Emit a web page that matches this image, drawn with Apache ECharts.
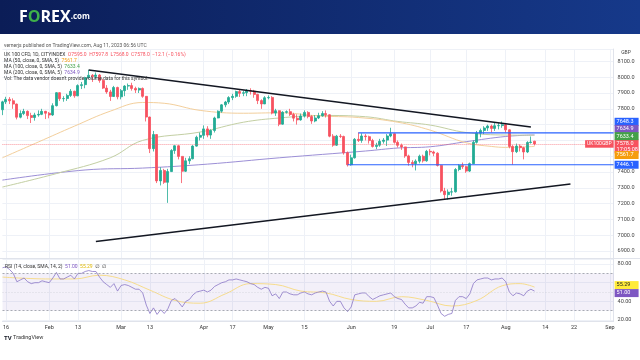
<!DOCTYPE html>
<html><head><meta charset="utf-8">
<script src="https://cdn.jsdelivr.net/npm/echarts@6/dist/echarts.min.js"></script>
<style>html,body{margin:0;padding:0;background:#fff}#c{width:640px;height:360px}</style>
</head><body><div id="c"></div>
<script>
// ---------- DATA ----------
const pastDates = ("01-13 01-16 01-17 01-18 01-19 01-20 01-23 01-24 01-25 01-26 01-27 01-30 01-31 " +
 "02-01 02-02 02-03 02-06 02-07 02-08 02-09 02-10 02-13 02-14 02-15 02-16 02-17 02-20 02-21 02-22 02-23 02-24 02-27 02-28 " +
 "03-01 03-02 03-03 03-06 03-07 03-08 03-09 03-10 03-13 03-14 03-15 03-16 03-17 03-20 03-21 03-22 03-23 03-24 03-27 03-28 03-29 03-30 03-31 " +
 "04-03 04-04 04-05 04-06 04-11 04-12 04-13 04-14 04-17 04-18 04-19 04-20 04-21 04-24 04-25 04-26 04-27 04-28 " +
 "05-01 05-02 05-03 05-04 05-05 05-08 05-09 05-10 05-11 05-12 05-15 05-16 05-17 05-18 05-19 05-22 05-23 05-24 05-25 05-26 05-29 05-30 05-31 " +
 "06-01 06-02 06-05 06-06 06-07 06-08 06-09 06-12 06-13 06-14 06-15 06-16 06-19 06-20 06-21 06-22 06-23 06-26 06-27 06-28 06-29 06-30 " +
 "07-03 07-04 07-05 07-06 07-07 07-10 07-11 07-12 07-13 07-14 07-17 07-18 07-19 07-20 07-21 07-24 07-25 07-26 07-27 07-28 07-31 " +
 "08-01 08-02 08-03 08-04 08-07 08-08 08-09 08-10 08-11").split(' ');
const futureDates = ("08-12 08-13 08-14 08-15 08-16 08-17 08-18 08-19 08-20 08-21 08-22 08-23 08-24 08-25 08-26 08-27 08-28 08-29 08-30 08-31 09-01 09-02").split(' ');
const dates = pastDates.concat(futureDates);

const tickDates  = ['01-16','02-01','02-13','03-01','03-13','04-03','04-17','05-01','05-15','06-01','06-19','07-03','07-17','08-01','08-14','08-22','09-01'];
const tickLabels = ['16','Feb','13','Mar','13','Apr','17','May','15','Jun','19','Jul','17','Aug','14','22','Sep'];

const open = [7794,7844,7860,7851,7830,7747,7770,7784,7757,7745,
 7761,7765,7784,7772,7761,7820,7902,7864,7865,7885,
 7911,7882,7947,7953,7997,8012,8004,8014,7979,7931,
 7907,7878,7935,7876,7915,7944,7947,7929,7919,7929,
 7879,7748,7548,7637,7344,7410,7335,7403,7536,7566,
 7499,7405,7471,7484,7564,7620,7632,7673,7634,7663,
 7742,7785,7825,7843,7871,7879,7909,7898,7902,7914,
 7912,7891,7852,7831,7870,7872,7773,7788,7703,7778,
 7782,7764,7741,7730,7754,7777,7751,7723,7742,7756,
 7770,7762,7627,7570,7627,7625,7522,7446,7490,7607,
 7600,7628,7624,7599,7562,7570,7594,7602,7628,7642,
 7588,7569,7559,7502,7461,7453,7469,7500,7471,7531,
 7527,7519,7442,7280,7257,7273,7275,7416,7441,7434,
 7406,7453,7588,7646,7663,7679,7691,7676,7693,7694,
 7699,7667,7562,7529,7564,7554,7527,7587,7595];
const close = [7844,7860,7851,7830,7747,7770,7784,7757,7745,7761,
 7765,7784,7772,7761,7820,7902,7864,7865,7885,7911,
 7882,7947,7953,7997,8012,8004,8014,7979,7931,7907,
 7878,7935,7876,7915,7944,7947,7929,7919,7929,7879,
 7748,7548,7637,7344,7410,7335,7403,7536,7566,7499,
 7405,7471,7484,7564,7620,7632,7673,7634,7663,7742,
 7785,7825,7843,7871,7879,7909,7898,7902,7914,7912,
 7891,7852,7831,7870,7872,7773,7788,7703,7778,7782,
 7764,7741,7730,7754,7777,7751,7723,7742,7756,7770,
 7762,7627,7570,7627,7625,7522,7446,7490,7607,7600,
 7628,7624,7599,7562,7570,7594,7602,7628,7642,7588,
 7569,7559,7502,7461,7453,7469,7500,7471,7531,7527,
 7519,7442,7280,7257,7273,7275,7416,7441,7434,7406,
 7453,7588,7646,7663,7679,7691,7676,7693,7694,7699,
 7667,7562,7529,7564,7554,7527,7587,7590,7578];
const low = [7760,7830,7830,7800,7733,7740,7760,7735,7710,7725,
 7750,7760,7735,7740,7755,7815,7850,7845,7850,7875,
 7870,7880,7925,7930,7990,7970,7990,7965,7925,7895,
 7850,7875,7860,7860,7880,7920,7915,7900,7900,7870,
 7720,7520,7530,7330,7315,7325,7205,7400,7515,7480,
 7330,7400,7450,7480,7560,7600,7610,7620,7610,7650,
 7740,7775,7810,7830,7855,7870,7875,7880,7880,7890,
 7870,7830,7800,7830,7860,7765,7755,7690,7700,7770,
 7755,7720,7700,7725,7745,7740,7705,7715,7735,7750,
 7745,7620,7560,7565,7615,7510,7435,7440,7485,7590,
 7585,7600,7580,7555,7545,7560,7580,7565,7620,7580,
 7555,7540,7490,7440,7430,7410,7455,7460,7465,7505,
 7500,7435,7270,7230,7225,7250,7270,7405,7420,7395,
 7400,7450,7580,7620,7640,7660,7650,7660,7670,7680,
 7650,7550,7446,7520,7530,7480,7520,7580,7568];
const high = [7851,7876,7874,7866,7833,7790,7800,7790,7775,7775,
 7790,7800,7787,7780,7835,7906,7905,7880,7895,7925,
 7915,7955,7970,8003,8047,8020,8030,8020,7990,7950,
 7920,7945,7940,7925,7950,7960,7965,7940,7935,7935,
 7880,7750,7660,7640,7430,7420,7420,7545,7570,7570,
 7500,7490,7500,7570,7630,7650,7695,7690,7670,7750,
 7790,7830,7850,7880,7895,7915,7920,7915,7925,7930,
 7920,7895,7860,7880,7885,7880,7800,7790,7785,7790,
 7800,7775,7765,7770,7790,7785,7760,7760,7775,7785,
 7790,7765,7640,7635,7640,7630,7530,7510,7615,7650,
 7645,7640,7630,7610,7585,7610,7615,7640,7680,7645,
 7600,7580,7560,7510,7475,7480,7510,7510,7540,7545,
 7535,7525,7445,7300,7290,7300,7425,7450,7460,7440,
 7460,7600,7660,7675,7690,7700,7700,7715,7710,7720,
 7705,7670,7570,7580,7575,7560,7595,7625,7598];

const ma50Pts  = [['01-13',7490],['01-27',7590],['02-10',7690],['02-24',7785],['03-09',7840],['03-17',7835],['03-31',7790],['04-20',7772],['05-04',7775],['05-19',7755],['06-05',7745],['06-20',7715],['07-03',7665],['07-17',7585],['07-26',7562],['08-01',7556],['08-11',7562]];
const ma100Pts = [['01-13',7305],['02-03',7390],['02-24',7490],['03-09',7600],['03-31',7653],['04-20',7715],['05-04',7742],['05-22',7758],['06-07',7750],['06-20',7720],['07-03',7697],['07-17',7650],['08-01',7634],['08-11',7633]];
const ma200Pts = [['01-13',7349],['02-15',7413],['03-09',7425],['04-04',7450],['05-04',7490],['06-07',7533],['06-20',7552],['07-03',7560],['07-17',7592],['08-01',7625],['08-11',7635]];

const upperTrend = [['02-16',8046],['08-10',7685]];
const lowerTrend = [['02-20',6960],['08-21',7325]];
const resistance = {from:'06-05', to:'09-02', value:7648.3};
const support    = {from:'05-31', to:'09-02', value:7446.1};

const rsi = [76,77,74,70,61,63,65,61,59,60,
 60,62,61,60,65,71,64,64,66,68,
 64,70,70,72,73,72,72,66,61,58,
 55,59,51,57,58,57,55,53,53,49,
 36,27,33,26,31,27,32,41,43,39,
 34,40,42,47,50,51,52,50,52,56,
 58,60,61,63,63,64,63,62,61,59,
 58,55,53,55,54,46,48,43,50,50,
 48,47,47,49,50,48,47,49,50,51,
 50,40,35,40,40,33,29,34,47,48,
 49,49,45,42,44,46,47,48,49,45,
 43,42,37,33,33,35,39,38,45,45,
 44,36,27,24,26,27,41,45,45,43,
 48,59,63,64,65,65,63,64,64,65,
 61,50,46,49,48,46,51,53,51];
const rsiMaPts = [['01-13',66],['02-01',64],['02-10',64],['02-21',68],['03-02',63],['03-13',52],['03-22',41],['03-31',38],['04-13',48],['04-24',59],['05-03',58],['05-12',51],['05-23',49],['06-01',42],['06-12',40],['06-21',45],['06-30',41],['07-11',35],['07-20',41],['07-31',56.7],['08-07',59],['08-11',55.29]];

const lastClose = 7578.0, countdown = '17:05:08';
const ma50Last = 7561.7, ma100Last = 7633.4, ma200Last = 7634.9;
const rsiLast = 51.00, rsiMaLast = 55.29;

// ---------- CHART ----------
const FONT = 'Roboto, "Noto Sans", "DejaVu Sans", sans-serif';
const chart = echarts.init(document.getElementById('c'), null, {renderer:'canvas', width:640, height:360});
const isTick = (i, v) => tickDates.indexOf(v) >= 0;
const UP = '#22ab94', DOWN = '#f7525f';

function badge(bg, text, dy, fg) {
  return {show:true, position:'end', distance:1, formatter:text, color:fg || '#fff', backgroundColor:bg,
          padding:[1,2,1,2], fontSize:5.5, lineHeight:6, offset:[0,dy], fontFamily:FONT, width:20};
}
const hidden = {color:'rgba(0,0,0,0)', width:1};

const option = {
  animation:false,
  backgroundColor:'#ffffff',
  textStyle:{fontFamily:FONT},
  grid:[
    {left:2.4, top:49, width:611.2, height:209},
    {left:2.4, top:259, width:611.2, height:62}
  ],
  xAxis:[
    {type:'category', gridIndex:0, data:dates, boundaryGap:false,
     axisLine:{show:false}, axisTick:{show:false}, axisLabel:{show:false},
     splitLine:{show:true, interval:isTick, lineStyle:{color:'#eef1f7', width:1}}},
    {type:'category', gridIndex:1, data:dates, boundaryGap:false,
     axisLine:{show:true, lineStyle:{color:'#e0e3eb'}}, axisTick:{show:false},
     axisLabel:{show:true, interval:isTick, formatter:v => tickLabels[tickDates.indexOf(v)] || '',
                fontSize:5.5, color:'#333', margin:4, fontFamily:FONT},
     splitLine:{show:true, interval:isTick, lineStyle:{color:'#eef1f7', width:1}}}
  ],
  yAxis:[
    {type:'value', gridIndex:0, position:'right', min:6856, max:8178.5, splitNumber:13, minInterval:100, maxInterval:100,
     axisLine:{show:true, lineStyle:{color:'#e0e3eb'}}, axisTick:{show:false},
     axisLabel:{fontSize:5.5, color:'#444', margin:4, fontFamily:FONT, showMinLabel:false, showMaxLabel:false,
                formatter:v => v.toFixed(1)},
     splitLine:{lineStyle:{color:'#eef1f7', width:1}}},
    {type:'value', gridIndex:1, position:'right', min:18.93, max:85.4, splitNumber:3, minInterval:20, maxInterval:20,
     axisLine:{show:true, lineStyle:{color:'#e0e3eb'}}, axisTick:{show:false},
     axisLabel:{fontSize:5.5, color:'#444', margin:4, fontFamily:FONT, showMinLabel:false, showMaxLabel:false,
                formatter:v => (Math.abs(v-60) < 0.01 ? '' : v.toFixed(2))},
     splitLine:{lineStyle:{color:'#eef1f7', width:1}}}
  ],
  series:[
    {type:'line', name:'MA200', xAxisIndex:0, yAxisIndex:0, data:ma200Pts, smooth:0.4, symbol:'none',
     lineStyle:{color:'#9c8fd6', width:1}, z:2},
    {type:'line', name:'MA100', xAxisIndex:0, yAxisIndex:0, data:ma100Pts, smooth:0.4, symbol:'none',
     lineStyle:{color:'#c3cfa3', width:1}, z:2},
    {type:'line', name:'MA50', xAxisIndex:0, yAxisIndex:0, data:ma50Pts, smooth:0.4, symbol:'none',
     lineStyle:{color:'#f3cf9c', width:1}, z:2},
    {type:'candlestick', xAxisIndex:0, yAxisIndex:0, barWidth:2.5, clip:false,
     data:open.map((o,i) => [o, close[i], low[i], high[i]]),
     itemStyle:{color:UP, color0:DOWN, borderColor:UP, borderColor0:DOWN, borderWidth:0.8},
     z:3,
     markLine:{symbol:['none','none'], silent:true, animation:false, precision:1,
       data:[
         {yAxis:lastClose, lineStyle:{color:'rgba(247,82,95,0.6)', type:'dotted', width:1},
          label:badge(DOWN, lastClose.toFixed(1) + '\n' + countdown, 2.5)},
         {yAxis:lastClose, lineStyle:hidden,
          label:{show:true, position:'insideEndTop', distance:0, formatter:'UK100GBP', color:'#fff', backgroundColor:DOWN,
                 padding:[1,2,1,2], fontSize:5, lineHeight:5.5, offset:[0,3.8], fontFamily:FONT}},
         {yAxis:resistance.value, lineStyle:hidden, label:badge('#2962ff', resistance.value.toFixed(1), -11)},
         {yAxis:ma200Last, lineStyle:hidden, label:badge('#7e57c2', ma200Last.toFixed(1), -6)},
         {yAxis:ma100Last, lineStyle:hidden, label:badge('#43a047', ma100Last.toFixed(1), 1)},
         {yAxis:ma50Last, lineStyle:hidden, label:badge('#f59d0e', ma50Last.toFixed(1), 8.5)},
         {yAxis:support.value, lineStyle:hidden, label:badge('#2962ff', support.value.toFixed(1), 0)}
       ]}},
    {type:'line', name:'upper', xAxisIndex:0, yAxisIndex:0, data:upperTrend, symbol:'none',
     lineStyle:{color:'#131722', width:1.5}, z:4},
    {type:'line', name:'lower', xAxisIndex:0, yAxisIndex:0, data:lowerTrend, symbol:'none',
     lineStyle:{color:'#131722', width:1.5}, z:4},
    {type:'line', name:'res', xAxisIndex:0, yAxisIndex:0, data:[[resistance.from, resistance.value],[resistance.to, resistance.value]],
     symbol:'none', lineStyle:{color:'#2962ff', width:1.2}, z:4},
    {type:'line', name:'sup', xAxisIndex:0, yAxisIndex:0, data:[[support.from, support.value],[support.to, support.value]],
     symbol:'none', lineStyle:{color:'#2962ff', width:1.2}, z:4},
    {type:'line', name:'RSI MA', xAxisIndex:1, yAxisIndex:1, data:rsiMaPts, smooth:0.4, symbol:'none',
     lineStyle:{color:'#f7dc8c', width:1}, z:2},
    {type:'line', name:'RSI', xAxisIndex:1, yAxisIndex:1, data:rsi, symbol:'none',
     lineStyle:{color:'#8a76c7', width:0.8}, z:3,
     markArea:{silent:true, itemStyle:{color:'rgba(126,87,194,0.09)'}, data:[[{yAxis:30},{yAxis:70}]]},
     markLine:{symbol:['none','none'], silent:true, animation:false,
       data:[
         {yAxis:70, lineStyle:{color:'#9598a1', type:[2,2], width:0.8}, label:{show:false}},
         {yAxis:50, lineStyle:{color:'#c5c7cf', type:[1,2], width:0.6}, label:{show:false}},
         {yAxis:30, lineStyle:{color:'#9598a1', type:[2,2], width:0.8}, label:{show:false}},
         {yAxis:rsiMaLast, lineStyle:hidden, label:badge('#ffeb3b', rsiMaLast.toFixed(2), -2, '#222')},
         {yAxis:rsiLast, lineStyle:hidden, label:badge('#7e57c2', rsiLast.toFixed(2), 2)}
       ]}}
  ],
  graphic:[
    {type:'rect', shape:{x:0, y:0, width:640, height:34}, silent:true, z:100,
     style:{fill:new echarts.graphic.LinearGradient(0,0,1,0,[{offset:0,color:'#0b1d57'},{offset:1,color:'#16398a'}])}},
    {type:'text', x:19, y:17, z:101, silent:true,
     style:{text:'{w|F}{g|O}{w|REX}{s|.com}', verticalAlign:'middle',
            rich:{w:{fill:'#ffffff', fontSize:16, fontWeight:'bold', fontFamily:'"Open Sans", sans-serif'},
                  g:{fill:'#3fb04a', fontSize:16, fontWeight:'bold', fontFamily:'"Open Sans", sans-serif'},
                  s:{fill:'#ffffff', fontSize:8, fontWeight:'bold', fontFamily:'"Open Sans", sans-serif'}}}},
    {type:'rect', shape:{x:0, y:258, width:640, height:1}, silent:true, z:50, style:{fill:'#e0e3eb'}},
    {type:'text', x:4, y:46, z:60, silent:true,
     style:{text:'vernerjs published on TradingView.com, Aug 11, 2023 06:56 UTC', fill:'#555', fontSize:5, fontFamily:FONT, verticalAlign:'middle'}},
    {type:'text', x:4, y:55, z:60, silent:true,
     style:{text:'{d|UK 100 CFD, 1D, CITYINDEX}{r|  O7595.0  H7597.8  L7568.0  C7578.0  \u221212.1 (\u22120.16%)}', verticalAlign:'middle',
            rich:{d:{fill:'#333', fontSize:5, fontFamily:FONT}, r:{fill:'#f7525f', fontSize:5, fontFamily:FONT}}}},
    {type:'text', x:4, y:61, z:60, silent:true,
     style:{text:'{d|MA (50, close, 0, SMA, 5)}{c|  7561.7}', verticalAlign:'middle',
            rich:{d:{fill:'#333', fontSize:5, fontFamily:FONT}, c:{fill:'#f59d0e', fontSize:5, fontFamily:FONT}}}},
    {type:'text', x:4, y:67, z:60, silent:true,
     style:{text:'{d|MA (100, close, 0, SMA, 5)}{c|  7633.4}', verticalAlign:'middle',
            rich:{d:{fill:'#333', fontSize:5, fontFamily:FONT}, c:{fill:'#43a047', fontSize:5, fontFamily:FONT}}}},
    {type:'text', x:4, y:73, z:60, silent:true,
     style:{text:'{d|MA (200, close, 0, SMA, 5)}{c|  7634.9}', verticalAlign:'middle',
            rich:{d:{fill:'#333', fontSize:5, fontFamily:FONT}, c:{fill:'#7e57c2', fontSize:5, fontFamily:FONT}}}},
    {type:'text', x:4, y:79, z:60, silent:true,
     style:{text:"Vol: The data vendor doesn't provide volume data for this symbol.", fill:'#333', fontSize:5, fontFamily:FONT, verticalAlign:'middle'}},
    {type:'text', x:626, y:53, z:60, silent:true,
     style:{text:'GBP', fill:'#444', fontSize:5, fontFamily:FONT, align:'center', verticalAlign:'middle'}},
    {type:'text', x:5, y:267, z:60, silent:true,
     style:{text:'{d|RSI (14, close, SMA, 14, 2)}{p|  51.00}{y|  55.29}{d|  \u2205  \u2205}', verticalAlign:'middle',
            rich:{d:{fill:'#333', fontSize:5, fontFamily:FONT}, p:{fill:'#7e57c2', fontSize:5, fontFamily:FONT},
                  y:{fill:'#e0b800', fontSize:5, fontFamily:FONT}}}},
    {type:'text', x:4, y:338, z:60, silent:true,
     style:{text:'{b|TV}{d| TradingView}', verticalAlign:'middle',
            rich:{b:{fill:'#131722', fontSize:6, fontWeight:'bold', fontFamily:FONT}, d:{fill:'#333', fontSize:5.5, fontFamily:FONT}}}}
  ]
};
chart.setOption(option);
</script></body></html>
